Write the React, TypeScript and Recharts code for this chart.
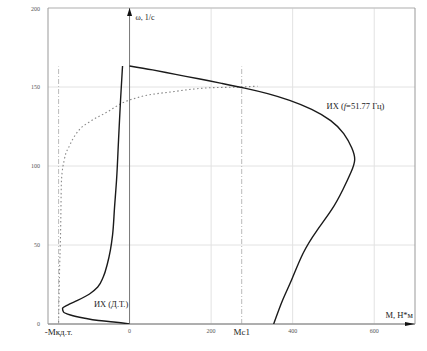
import React from "react";
import {
  ComposedChart,
  Line,
  XAxis,
  YAxis,
  CartesianGrid,
  ReferenceLine,
  ReferenceDot,
} from "recharts";

// ИХ (Д.Т.) curve
const dtTorque = [0, -39, -76, -113, -145, -162, -164.4, -152, -127.6, -98.2, -78, -64.5, -54.5, -47, -41.7, -36.8, -31.9, -27, -22.1, -17.2];
const dtSpeed = [0, 1.3, 2.2, 3.8, 5.7, 7.6, 9.8, 12, 14.9, 19, 23.4, 29.7, 38, 46.8, 56.3, 74, 91.1, 116.5, 141.8, 163.3];

// ИХ (f=51.77 Гц) curve
const fTorque = [0, 56.4, 112.9, 169.3, 225.8, 282.2, 338.7, 392.6, 446.6, 493.3, 525.2, 544.8, 552.1, 543, 523, 496, 459, 425, 397.5, 375.5, 353.4];
const fSpeed = [163.3, 160.8, 158.0, 155.2, 152.3, 149.3, 145.8, 141.5, 135.8, 128.7, 120.5, 111.5, 104, 96, 85, 72.5, 59, 44.5, 28, 15.2, 0];

// dotted curve
const dotTorque = [-174, -172, -169, -167, -160, -147, -123, -98, -56, -17, 25, 105, 189, 270, 314];
const dotSpeed = [1, 30, 60, 91, 104, 113, 123, 128, 134, 140, 143.7, 147, 149.4, 150, 150.5];

const yTicks = [0, 50, 100, 150, 200];
const xTicks = [-174, 0, 200, 275, 400, 600];
const xTickLabels: Record<number, string> = { [-174]: "-Мкд.т.", 0: "0", 200: "200", 275: "Мс1", 400: "400", 600: "600" };
const specialTicks = [-174, 275];
const gridX = [200, 400, 600];
const markerTop = 163;

const toPts = (m: number[], w: number[]) => m.map((v, i) => ({ m: v, w: w[i] }));
const dtData = toPts(dtTorque, dtSpeed);
const fData = toPts(fTorque, fSpeed);
const dotData = toPts(dotTorque, dotSpeed);

const FONT = "'Liberation Serif', 'Times New Roman', serif";

const XTick = (props: any) => {
  const { x, y, payload } = props;
  const v = payload.value;
  const special = specialTicks.includes(v);
  return (
    <text
      x={x}
      y={y}
      dy={special ? 3 : 1}
      textAnchor="middle"
      fontFamily={FONT}
      fontSize={special ? 9 : 6}
      fill={special ? "#222" : "#555"}
    >
      {xTickLabels[v]}
    </text>
  );
};

const YTick = (props: any) => {
  const { x, y, payload } = props;
  return (
    <text x={x} y={y} dy={2} textAnchor="end" fontFamily={FONT} fontSize={6} fill="#555">
      {payload.value}
    </text>
  );
};

const YArrow = (props: any) => {
  const { viewBox } = props;
  const x = viewBox.x;
  const y = viewBox.y;
  return (
    <g>
      <polygon points={`${x},${y} ${x - 2.5},${y + 8} ${x + 2.5},${y + 8}`} fill="#111" />
      <text x={x + 6} y={y + 12} fontFamily={FONT} fontSize={8} fill="#222">
        ω, 1/с
      </text>
    </g>
  );
};

const XArrow = (props: any) => {
  const { viewBox } = props;
  const xe = viewBox.x + viewBox.width;
  const y = viewBox.y;
  return (
    <g>
      <polygon points={`${xe},${y} ${xe - 10},${y - 2} ${xe - 10},${y + 2}`} fill="#111" />
      <text x={xe - 2} y={y - 6} textAnchor="end" fontFamily={FONT} fontSize={8.5} fill="#222">
        М, Н*м
      </text>
    </g>
  );
};

const FLabel = (props: any) => {
  const { viewBox } = props;
  const cx = viewBox.cx ?? viewBox.x;
  const cy = viewBox.cy ?? viewBox.y;
  return (
    <text x={cx} y={cy} fontFamily={FONT} fontSize={8.5} fill="#222">
      ИХ (<tspan fontStyle="italic">f</tspan>=51.77 Гц)
    </text>
  );
};

const DTLabel = (props: any) => {
  const { viewBox } = props;
  const cx = viewBox.cx ?? viewBox.x;
  const cy = viewBox.cy ?? viewBox.y;
  return (
    <text x={cx} y={cy} textAnchor="end" fontFamily={FONT} fontSize={8.5} fill="#222">
      ИХ (Д.Т.)
    </text>
  );
};

export default function App() {
  return (
    <div style={{ position: "absolute", left: 0, top: 0, background: "#fff" }}>
      <ComposedChart width={427} height={351} margin={{ top: 8, right: 12, bottom: 7, left: 8 }}>
        <CartesianGrid vertical={false} stroke="#e2e2e2" strokeWidth={1} />
        <XAxis
          type="number"
          dataKey="m"
          domain={[-200, 700]}
          ticks={xTicks}
          tick={<XTick />}
          tickLine={false}
          axisLine={false}
          height={20}
          interval={0}
          allowDataOverflow
        />
        <YAxis
          type="number"
          dataKey="w"
          domain={[0, 200]}
          ticks={yTicks}
          tick={<YTick />}
          tickLine={false}
          axisLine={{ stroke: "#999", strokeWidth: 1 }}
          width={40}
          allowDataOverflow
        />
        {gridX.map((g) => (
          <ReferenceLine key={g} x={g} stroke="#e2e2e2" strokeWidth={1} />
        ))}
        <ReferenceLine y={200} stroke="#bbb" strokeWidth={1} />
        <ReferenceLine x={700} stroke="#999" strokeWidth={1} />
        {specialTicks.map((s) => (
          <ReferenceLine
            key={s}
            segment={[
              { x: s, y: 0 },
              { x: s, y: markerTop },
            ]}
            stroke="#bbb"
            strokeWidth={1}
            strokeDasharray="5 2 1 2"
          />
        ))}
        <Line
          data={dotData}
          dataKey="w"
          type="monotoneX"
          stroke="#888"
          strokeWidth={1.1}
          strokeDasharray="1.5 2.5"
          dot={false}
          isAnimationActive={false}
        />
        <ReferenceLine x={0} stroke="#777" strokeWidth={1} label={<YArrow />} />
        <ReferenceLine y={0} stroke="#999" strokeWidth={1.6} label={<XArrow />} />
        <Line
          data={dtData}
          dataKey="w"
          type="monotoneY"
          stroke="#1a1a1a"
          strokeWidth={1.4}
          dot={false}
          isAnimationActive={false}
        />
        <Line
          data={fData}
          dataKey="w"
          type="natural"
          stroke="#1a1a1a"
          strokeWidth={1.4}
          dot={false}
          isAnimationActive={false}
        />
        <ReferenceDot x={483} y={136} r={0} fill="none" stroke="none" label={<FLabel />} />
        <ReferenceDot x={-3} y={11} r={0} fill="none" stroke="none" label={<DTLabel />} />
      </ComposedChart>
    </div>
  );
}
